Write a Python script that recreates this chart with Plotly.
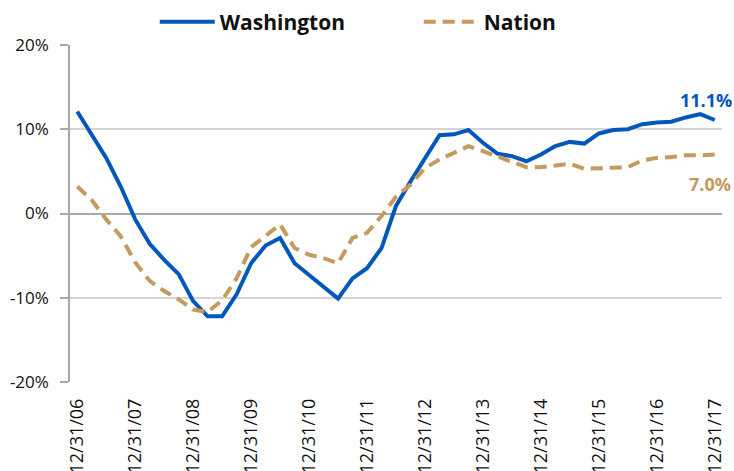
import pandas as pd
import plotly.graph_objects as go

# Quarter-end dates, 12/31/06 through 12/31/17
quarters = [f"{d.month}/{d.day}/{d.strftime('%y')}"
            for d in pd.date_range("2006-12-31", "2017-12-31", freq="QE")]

# Year-over-year change, percent
washington = [12.1, 9.4, 6.6, 3.2, -0.7, -3.6, -5.5, -7.2, -10.4, -12.2,
              -12.2, -9.6, -5.9, -3.8, -2.9, -5.9, -7.3, -8.8, -10.1, -7.7,
              -6.5, -4.1, 0.9, 3.8, 6.6, 9.3, 9.4, 9.9, 8.4, 7.1,
              6.8, 6.2, 7.0, 8.0, 8.5, 8.3, 9.5, 9.9, 10.0, 10.6,
              10.8, 10.9, 11.4, 11.8, 11.1]
nation = [3.2, 1.6, -0.7, -2.7, -5.8, -8.0, -9.2, -10.2, -11.4, -11.7,
          -10.3, -7.7, -4.0, -2.6, -1.3, -4.1, -4.9, -5.3, -5.9, -2.9,
          -2.3, -0.3, 2.0, 3.4, 5.4, 6.4, 7.2, 8.0, 7.4, 6.8,
          6.1, 5.5, 5.5, 5.7, 5.9, 5.3, 5.4, 5.4, 5.5, 6.3,
          6.6, 6.7, 6.9, 6.9, 7.0]

year_ticks = [q for q in quarters if q.startswith("12/31/")]
y_ticks = [-20, -10, 0, 10, 20]
y_tick_text = [f"{v}%" for v in y_ticks]

BLUE = "#0258BA"
TAN = "#C49A5E"
FONT = "Open Sans"

fig = go.Figure()
fig.add_trace(go.Scatter(
    x=quarters, y=washington, name="Washington", mode="lines",
    line=dict(color=BLUE, width=4),
))
fig.add_trace(go.Scatter(
    x=quarters, y=nation, name="Nation", mode="lines",
    line=dict(color=TAN, width=4, dash="12px,7px"),
))

# End-of-series value labels
fig.add_annotation(x=quarters[-1], y=washington[-1], text=f"<b>{washington[-1]:.1f}%</b>",
                   showarrow=False, xanchor="center", yshift=20, xshift=-9,
                   font=dict(family=FONT, size=18, color=BLUE))
fig.add_annotation(x=quarters[-1], y=nation[-1], text=f"<b>{nation[-1]:.1f}%</b>",
                   showarrow=False, xanchor="center", yshift=-29, xshift=-5,
                   font=dict(family=FONT, size=18, color=TAN))

fig.update_layout(
    width=734, height=471,
    margin=dict(l=70, r=12, t=45, b=89, autoexpand=False),
    paper_bgcolor="white", plot_bgcolor="white",
    font=dict(family=FONT, size=17, color="#111111"),
    showlegend=True,
    legend=dict(orientation="h", x=0.13, xanchor="left", y=1.068, yanchor="middle",
                font=dict(family=FONT, size=21, color="#111111", weight="bold"),
                entrywidth=194, itemwidth=55, bgcolor="rgba(0,0,0,0)"),
)
fig.update_xaxes(
    type="category", range=[-0.5, len(quarters) - 0.5],
    tickmode="array", tickvals=year_ticks, ticktext=year_ticks,
    tickangle=-90, showgrid=False, showline=False, ticks="",
    zeroline=False, ticklabelstandoff=12,
    tickfont=dict(family=FONT, size=18, color="#111111"),
)
fig.update_yaxes(
    range=[-20, 20], tickmode="array", tickvals=y_ticks, ticktext=y_tick_text,
    showgrid=True, gridcolor="#D4D4D4", gridwidth=1.5,
    zeroline=True, zerolinecolor="#A8A8A8", zerolinewidth=1.5,
    showline=True, linecolor="#A8A8A8", linewidth=1.5,
    ticks="outside", ticklen=8, tickcolor="#A8A8A8", tickwidth=1.5,
    ticklabelstandoff=8,
    tickfont=dict(family=FONT, size=17, color="#111111"),
)

fig.write_html("out.html")
